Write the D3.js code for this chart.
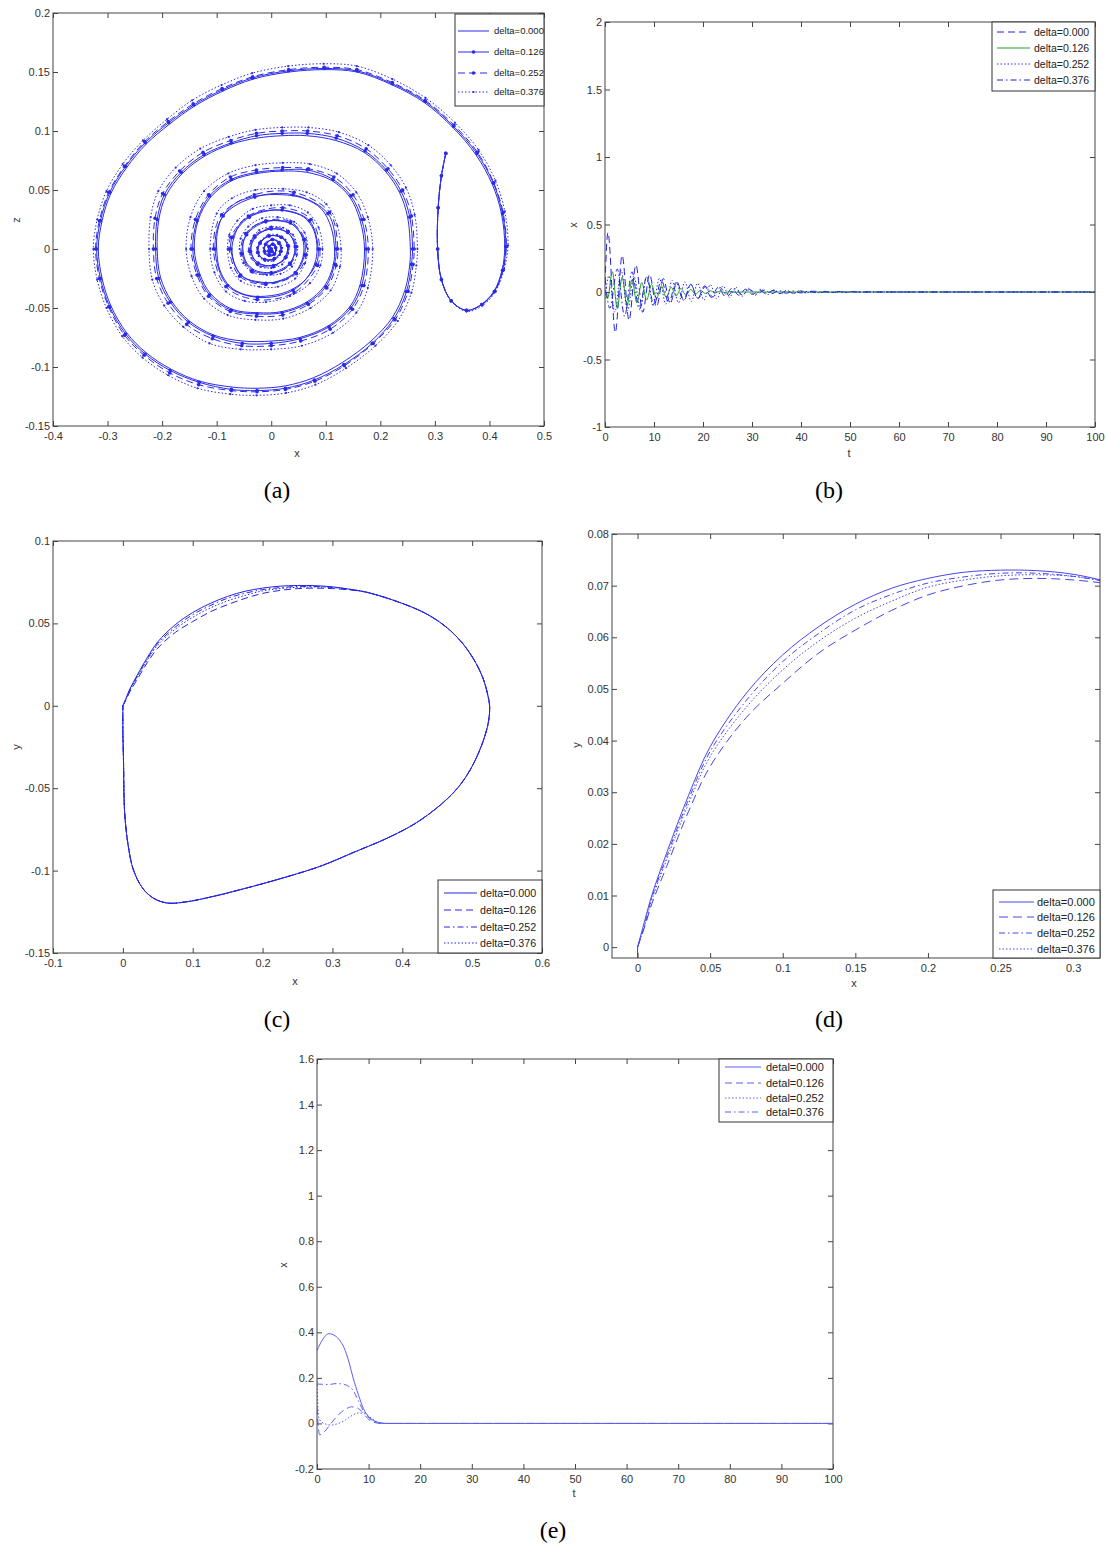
<!DOCTYPE html>
<html><head><meta charset="utf-8">
<script src="https://cdn.jsdelivr.net/npm/d3@7"></script>
<style>body{margin:0;background:#fff} svg{display:block}</style>
</head><body>
<svg id="fig" width="1106" height="1544"></svg>
<script>
// ---------------- DATA ----------------
const deltaLabels = ["delta=0.000","delta=0.126","delta=0.252","delta=0.376"];
const detalLabels = ["detal=0.000","detal=0.126","detal=0.252","detal=0.376"];

// panel (a) ticks
const aXTicks = [-0.4,-0.3,-0.2,-0.1,0,0.1,0.2,0.3,0.4,0.5];
const aXLabels = ["-0.4","-0.3","-0.2","-0.1","0","0.1","0.2","0.3","0.4","0.5"];
const aYTicks = [-0.15,-0.1,-0.05,0,0.05,0.1,0.15,0.2];
const aYLabels = ["-0.15","-0.1","-0.05","0","0.05","0.1","0.15","0.2"];
// panel (b) ticks
const bXTicks = [0,10,20,30,40,50,60,70,80,90,100];
const bXLabels = ["0","10","20","30","40","50","60","70","80","90","100"];
const bYTicks = [-1,-0.5,0,0.5,1,1.5,2];
const bYLabels = ["-1","-0.5","0","0.5","1","1.5","2"];
// panel (c) ticks
const cXTicks = [-0.1,0,0.1,0.2,0.3,0.4,0.5,0.6];
const cXLabels = ["-0.1","0","0.1","0.2","0.3","0.4","0.5","0.6"];
const cYTicks = [-0.15,-0.1,-0.05,0,0.05,0.1];
const cYLabels = ["-0.15","-0.1","-0.05","0","0.05","0.1"];
// panel (d) ticks
const dXTicks = [0,0.05,0.1,0.15,0.2,0.25,0.3];
const dXLabels = ["0","0.05","0.1","0.15","0.2","0.25","0.3"];
const dYTicks = [0,0.01,0.02,0.03,0.04,0.05,0.06,0.07,0.08];
const dYLabels = ["0","0.01","0.02","0.03","0.04","0.05","0.06","0.07","0.08"];
// panel (e) ticks
const eXTicks = [0,10,20,30,40,50,60,70,80,90,100];
const eXLabels = ["0","10","20","30","40","50","60","70","80","90","100"];
const eYTicks = [-0.2,0,0.2,0.4,0.6,0.8,1,1.2,1.4,1.6];
const eYLabels = ["-0.2","0","0.2","0.4","0.6","0.8","1","1.2","1.4","1.6"];

// panel (a): x-z trajectories [x, z]
const aSeries0 = [[0.320,0.081],[0.312,0.062],[0.306,0.035],[0.305,0.000],[0.312,-0.026],[0.330,-0.044],[0.358,-0.052],[0.385,-0.047],[0.408,-0.036],[0.423,-0.018],[0.428,0.002],[0.422,0.030],[0.405,0.055],[0.375,0.080],[0.333,0.103],[0.281,0.124],[0.222,0.139],[0.157,0.150],[0.098,0.152],[0.033,0.150],[-0.033,0.144],[-0.088,0.134],[-0.141,0.121],[-0.186,0.106],[-0.229,0.089],[-0.265,0.069],[-0.294,0.047],[-0.310,0.024],[-0.317,0.000],[-0.310,-0.025],[-0.294,-0.048],[-0.265,-0.071],[-0.229,-0.088],[-0.183,-0.102],[-0.131,-0.112],[-0.072,-0.117],[-0.026,-0.118],[0.026,-0.116],[0.078,-0.109],[0.131,-0.096],[0.183,-0.078],[0.222,-0.058],[0.245,-0.035],[0.254,-0.013],[0.255,0.000],[0.250,0.027],[0.235,0.048],[0.209,0.066],[0.170,0.082],[0.118,0.092],[0.065,0.096],[0.020,0.096],[-0.026,0.094],[-0.072,0.089],[-0.121,0.079],[-0.163,0.064],[-0.193,0.045],[-0.206,0.025],[-0.209,0.000],[-0.203,-0.024],[-0.183,-0.044],[-0.150,-0.061],[-0.105,-0.073],[-0.052,-0.078],[0.000,-0.078],[0.052,-0.075],[0.105,-0.065],[0.144,-0.049],[0.163,-0.030],[0.171,0.000],[0.163,0.024],[0.144,0.044],[0.111,0.058],[0.065,0.065],[0.020,0.066],[-0.026,0.064],[-0.072,0.058],[-0.111,0.044],[-0.134,0.024],[-0.141,0.000],[-0.131,-0.021],[-0.111,-0.038],[-0.072,-0.051],[-0.026,-0.054],[0.020,-0.053],[0.065,-0.045],[0.098,-0.031],[0.114,-0.013],[0.116,0.000],[0.110,0.018],[0.092,0.034],[0.059,0.043],[0.020,0.046],[-0.026,0.045],[-0.065,0.039],[-0.090,0.027],[-0.099,0.013],[-0.100,0.000],[-0.094,-0.018],[-0.075,-0.032],[-0.045,-0.039],[-0.010,-0.040],[0.030,-0.036],[0.063,-0.026],[0.080,-0.012],[0.084,0.000],[0.078,0.016],[0.060,0.027],[0.030,0.032],[0.000,0.033],[-0.030,0.030],[-0.056,0.022],[-0.068,0.010],[-0.072,0.000],[-0.066,-0.014],[-0.050,-0.024],[-0.020,-0.028],[0.010,-0.028],[0.040,-0.022],[0.056,-0.010],[0.060,0.000],[0.055,0.012],[0.038,0.021],[0.010,0.024],[-0.015,0.023],[-0.038,0.017],[-0.050,0.008],[-0.052,0.000],[-0.046,-0.011],[-0.030,-0.018],[-0.008,-0.020],[0.015,-0.019],[0.034,-0.013],[0.042,-0.005],[0.043,0.002],[0.036,0.011],[0.020,0.016],[0.000,0.017],[-0.020,0.014],[-0.033,0.007],[-0.037,0.000],[-0.032,-0.008],[-0.018,-0.013],[0.000,-0.014],[0.018,-0.011],[0.028,-0.004],[0.030,0.002],[0.024,0.008],[0.010,0.011],[-0.005,0.011],[-0.018,0.007],[-0.024,0.001],[-0.021,-0.006],[-0.010,-0.009],[0.004,-0.009],[0.015,-0.005],[0.019,0.001],[0.014,0.006],[0.004,0.008],[-0.007,0.006],[-0.013,0.001],[-0.011,-0.004],[-0.004,-0.006],[0.005,-0.005],[0.009,-0.001],[0.007,0.003],[0.001,0.004],[-0.004,0.002],[-0.005,-0.001],[-0.002,-0.003],[0.002,-0.002],[0.002,0.000],[0,0]];
const aSeries1 = [[0.320,0.081],[0.312,0.062],[0.306,0.035],[0.305,0.000],[0.312,-0.026],[0.330,-0.044],[0.358,-0.052],[0.386,-0.047],[0.409,-0.036],[0.424,-0.018],[0.430,0.002],[0.424,0.030],[0.407,0.056],[0.377,0.081],[0.334,0.104],[0.282,0.125],[0.222,0.140],[0.157,0.151],[0.097,0.153],[0.032,0.151],[-0.034,0.145],[-0.089,0.135],[-0.142,0.122],[-0.188,0.107],[-0.231,0.090],[-0.267,0.070],[-0.296,0.048],[-0.313,0.024],[-0.320,0.000],[-0.313,-0.025],[-0.296,-0.049],[-0.267,-0.072],[-0.231,-0.089],[-0.185,-0.103],[-0.132,-0.113],[-0.073,-0.119],[-0.026,-0.120],[0.026,-0.118],[0.079,-0.111],[0.133,-0.098],[0.185,-0.080],[0.225,-0.059],[0.248,-0.036],[0.257,-0.013],[0.259,0.000],[0.254,0.027],[0.238,0.049],[0.211,0.067],[0.172,0.083],[0.119,0.094],[0.066,0.098],[0.020,0.098],[-0.027,0.096],[-0.073,0.090],[-0.123,0.080],[-0.165,0.065],[-0.196,0.046],[-0.209,0.025],[-0.212,0.000],[-0.206,-0.025],[-0.185,-0.045],[-0.152,-0.062],[-0.106,-0.074],[-0.053,-0.080],[0.000,-0.080],[0.053,-0.076],[0.106,-0.066],[0.146,-0.050],[0.166,-0.031],[0.174,0.000],[0.166,0.025],[0.146,0.045],[0.113,0.059],[0.066,0.067],[0.020,0.067],[-0.027,0.065],[-0.073,0.059],[-0.113,0.045],[-0.136,0.024],[-0.144,0.000],[-0.133,-0.022],[-0.113,-0.039],[-0.073,-0.052],[-0.026,-0.055],[0.020,-0.054],[0.066,-0.046],[0.100,-0.032],[0.116,-0.013],[0.119,0.000],[0.104,0.030],[0.040,0.046],[-0.030,0.044],[-0.088,0.028],[-0.103,0.000],[-0.080,-0.031],[-0.025,-0.041],[0.040,-0.035],[0.082,-0.013],[0.086,0.000],[0.070,0.024],[0.020,0.033],[-0.040,0.027],[-0.071,0.010],[-0.074,0.000],[-0.056,-0.022],[-0.010,-0.029],[0.044,-0.020],[0.061,-0.005],[0.060,0.008],[0.035,0.022],[-0.010,0.023],[-0.045,0.012],[-0.053,-0.004],[-0.035,-0.018],[0.000,-0.020],[0.034,-0.012],[0.044,0.002],[0.030,0.014],[0.000,0.017],[-0.030,0.010],[-0.038,-0.002],[-0.024,-0.012],[0.004,-0.014],[0.026,-0.007],[0.030,0.003],[0.018,0.010],[-0.004,0.011],[-0.020,0.005],[-0.024,-0.003],[-0.012,-0.009],[0.006,-0.008],[0.017,-0.002],[0.014,0.005],[0.002,0.008],[-0.010,0.004],[-0.012,-0.002],[-0.004,-0.005],[0.006,-0.004],[0.008,0.001],[0.003,0.004],[-0.004,0.002],[-0.004,-0.002],[0.001,-0.002],[0,0]];
const aSeries2 = [[0.320,0.081],[0.312,0.062],[0.306,0.035],[0.305,0.000],[0.312,-0.026],[0.330,-0.044],[0.358,-0.052],[0.386,-0.047],[0.410,-0.036],[0.425,-0.018],[0.431,0.002],[0.425,0.031],[0.408,0.056],[0.378,0.082],[0.335,0.105],[0.282,0.126],[0.222,0.141],[0.157,0.152],[0.097,0.154],[0.032,0.152],[-0.034,0.146],[-0.090,0.136],[-0.143,0.123],[-0.189,0.108],[-0.232,0.091],[-0.269,0.070],[-0.298,0.048],[-0.315,0.024],[-0.322,0.000],[-0.315,-0.025],[-0.298,-0.049],[-0.269,-0.073],[-0.233,-0.090],[-0.186,-0.105],[-0.133,-0.115],[-0.073,-0.120],[-0.026,-0.121],[0.026,-0.119],[0.080,-0.112],[0.134,-0.099],[0.187,-0.080],[0.227,-0.060],[0.251,-0.036],[0.260,-0.013],[0.262,0.000],[0.257,0.028],[0.241,0.050],[0.214,0.068],[0.174,0.085],[0.121,0.096],[0.067,0.100],[0.020,0.100],[-0.027,0.098],[-0.074,0.092],[-0.125,0.082],[-0.168,0.066],[-0.199,0.047],[-0.213,0.026],[-0.216,0.000],[-0.210,-0.025],[-0.189,-0.046],[-0.155,-0.064],[-0.108,-0.076],[-0.054,-0.082],[0.000,-0.082],[0.054,-0.078],[0.108,-0.068],[0.149,-0.051],[0.170,-0.031],[0.178,0.000],[0.170,0.025],[0.150,0.046],[0.115,0.061],[0.068,0.068],[0.021,0.069],[-0.027,0.067],[-0.075,0.061],[-0.115,0.046],[-0.139,0.025],[-0.147,0.000],[-0.136,-0.022],[-0.115,-0.040],[-0.075,-0.053],[-0.027,-0.057],[0.021,-0.056],[0.068,-0.047],[0.102,-0.033],[0.119,-0.014],[0.122,0.000],[0.107,0.031],[0.042,0.048],[-0.031,0.046],[-0.091,0.029],[-0.106,0.000],[-0.083,-0.032],[-0.026,-0.043],[0.042,-0.037],[0.085,-0.014],[0.089,0.000],[0.073,0.025],[0.021,0.035],[-0.042,0.028],[-0.074,0.010],[-0.077,0.000],[-0.058,-0.023],[-0.010,-0.030],[0.046,-0.021],[0.064,-0.005],[0.062,0.008],[0.036,0.023],[-0.010,0.024],[-0.047,0.013],[-0.055,-0.004],[-0.036,-0.019],[0.000,-0.021],[0.035,-0.013],[0.046,0.002],[0.031,0.015],[0.000,0.018],[-0.031,0.011],[-0.040,-0.002],[-0.025,-0.013],[0.004,-0.015],[0.027,-0.007],[0.031,0.003],[0.019,0.010],[-0.004,0.011],[-0.021,0.005],[-0.025,-0.003],[-0.012,-0.009],[0.006,-0.008],[0.018,-0.002],[0.014,0.005],[0.002,0.008],[-0.010,0.004],[-0.012,-0.002],[-0.004,-0.005],[0.006,-0.004],[0.008,0.001],[0.003,0.004],[-0.004,0.002],[-0.004,-0.002],[0.001,-0.002],[0,0]];
const aSeries3 = [[0.320,0.081],[0.312,0.062],[0.306,0.035],[0.305,0.000],[0.312,-0.026],[0.330,-0.044],[0.358,-0.053],[0.387,-0.048],[0.411,-0.036],[0.427,-0.017],[0.434,0.003],[0.428,0.032],[0.411,0.058],[0.380,0.084],[0.337,0.107],[0.283,0.128],[0.222,0.144],[0.157,0.155],[0.096,0.157],[0.031,0.155],[-0.035,0.149],[-0.091,0.139],[-0.145,0.126],[-0.191,0.110],[-0.235,0.092],[-0.272,0.072],[-0.302,0.049],[-0.319,0.025],[-0.326,0.000],[-0.319,-0.026],[-0.302,-0.050],[-0.273,-0.074],[-0.236,-0.092],[-0.189,-0.107],[-0.135,-0.118],[-0.075,-0.123],[-0.027,-0.124],[0.027,-0.122],[0.081,-0.115],[0.137,-0.101],[0.191,-0.082],[0.232,-0.061],[0.257,-0.037],[0.266,-0.014],[0.268,0.000],[0.263,0.029],[0.247,0.052],[0.219,0.071],[0.178,0.088],[0.124,0.099],[0.068,0.103],[0.020,0.103],[-0.029,0.101],[-0.078,0.095],[-0.130,0.085],[-0.175,0.069],[-0.207,0.049],[-0.221,0.027],[-0.224,0.000],[-0.218,-0.026],[-0.196,-0.048],[-0.161,-0.066],[-0.113,-0.080],[-0.056,-0.085],[0.000,-0.085],[0.056,-0.082],[0.113,-0.071],[0.156,-0.054],[0.177,-0.033],[0.186,0.000],[0.177,0.027],[0.156,0.048],[0.120,0.064],[0.071,0.072],[0.021,0.073],[-0.029,0.071],[-0.079,0.064],[-0.123,0.049],[-0.148,0.027],[-0.156,0.000],[-0.146,-0.023],[-0.123,-0.042],[-0.080,-0.056],[-0.029,-0.060],[0.022,-0.059],[0.072,-0.050],[0.109,-0.035],[0.126,-0.015],[0.128,0.000],[0.121,0.020],[0.101,0.038],[0.065,0.048],[0.022,0.051],[-0.029,0.050],[-0.072,0.043],[-0.100,0.030],[-0.112,0.000],[-0.104,-0.020],[-0.083,-0.036],[-0.049,-0.044],[-0.010,-0.045],[0.034,-0.040],[0.071,-0.029],[0.090,-0.014],[0.094,0.000],[0.087,0.018],[0.067,0.031],[0.034,0.037],[0.000,0.037],[-0.034,0.034],[-0.062,0.024],[-0.077,0.012],[-0.080,0.000],[-0.074,-0.016],[-0.056,-0.027],[-0.022,-0.032],[0.012,-0.032],[0.044,-0.025],[0.062,-0.012],[0.067,0.000],[0.061,0.014],[0.042,0.023],[0.012,0.027],[-0.017,0.026],[-0.042,0.019],[-0.056,0.009],[-0.058,0.000],[-0.051,-0.012],[-0.034,-0.020],[-0.008,-0.022],[0.017,-0.021],[0.038,-0.015],[0.047,-0.005],[0.048,0.002],[0.040,0.012],[0.022,0.018],[0.000,0.019],[-0.022,0.016],[-0.037,0.007],[-0.041,0.000],[-0.036,-0.008],[-0.020,-0.015],[0.000,-0.016],[0.020,-0.013],[0.031,-0.004],[0.033,0.002],[0.026,0.008],[0.011,0.012],[-0.005,0.012],[-0.019,0.007],[-0.026,0.001],[-0.023,-0.006],[-0.011,-0.010],[0.004,-0.010],[0.016,-0.005],[0.020,0.001],[0.015,0.006],[0.004,0.008],[-0.007,0.006],[-0.014,0.001],[-0.012,-0.004],[-0.004,-0.006],[0.005,-0.005],[0.009,-0.001],[0.007,0.003],[0.001,0.004],[-0.004,0.002],[-0.005,-0.001],[-0.002,-0.003],[0.002,-0.002],[0,0]];

// panel (b): x(t) extrema [t, x]
const bSeries0 = [[0,0.06],[0.6,0.44],[2.1,-0.30],[3.5,0.27],[4.9,-0.21],[6.3,0.20],[7.7,-0.15],[9.1,0.13],[10.5,-0.11],[11.9,0.10],[13.3,-0.085],[14.7,0.075],[16.1,-0.065],[17.5,0.058],[18.9,-0.05],[20.3,0.045],[21.7,-0.04],[23.1,0.035],[24.5,-0.031],[25.9,0.027],[27.3,-0.024],[28.7,0.021],[30.1,-0.018],[31.5,0.016],[32.9,-0.014],[34.3,0.012],[35.7,-0.011],[37.1,0.01],[38.5,-0.009],[39.9,0.008],[41.3,-0.007],[42.7,0.006],[44.1,-0.005],[45.5,0.004],[46.9,-0.004],[48.3,0.003],[49.7,-0.003],[51.1,0.002],[52.5,-0.002],[54,0.001],[56,0],[100,0]];
const bSeries1 = [[0,0.02],[0.5,-0.05],[1.5,0.15],[2.5,-0.12],[3.5,0.11],[4.5,-0.10],[5.5,0.09],[6.5,-0.08],[7.5,0.07],[8.5,-0.06],[9.5,0.055],[10.5,-0.05],[11.5,0.045],[12.5,-0.04],[13.5,0.035],[14.5,-0.03],[15.5,0.026],[16.5,-0.022],[17.5,0.019],[18.5,-0.016],[19.5,0.013],[20.5,-0.011],[21.5,0.009],[22.5,-0.007],[23.5,0.006],[24.5,-0.005],[25.5,0.004],[26.5,-0.003],[28,0],[100,0]];
const bSeries2 = [[0,-0.05],[0.8,0.12],[2.0,-0.15],[3.3,0.16],[4.6,-0.14],[5.9,0.12],[7.2,-0.12],[8.5,0.11],[9.8,-0.10],[11.1,0.10],[12.4,-0.09],[13.7,0.085],[15,-0.08],[16.3,0.075],[17.6,-0.07],[18.9,0.065],[20.2,-0.06],[21.5,0.055],[22.8,-0.05],[24.1,0.045],[25.4,-0.04],[26.7,0.036],[28,-0.032],[29.3,0.028],[30.6,-0.025],[31.9,0.022],[33.2,-0.019],[34.5,0.016],[35.8,-0.014],[37.1,0.012],[38.4,-0.01],[39.7,0.009],[41,-0.008],[42.3,0.007],[43.6,-0.006],[44.9,0.005],[46.2,-0.004],[47.5,0.003],[48.8,-0.003],[50.1,0.002],[52,-0.001],[55,0],[100,0]];
const bSeries3 = [[0,0.1],[1.0,-0.12],[2.5,0.17],[4.0,-0.18],[5.5,0.15],[7.0,-0.13],[8.5,0.115],[10,-0.10],[11.5,0.09],[13,-0.08],[14.5,0.07],[16,-0.062],[17.5,0.055],[19,-0.048],[20.5,0.042],[22,-0.037],[23.5,0.032],[25,-0.028],[26.5,0.024],[28,-0.021],[29.5,0.018],[31,-0.016],[32.5,0.014],[34,-0.012],[35.5,0.01],[37,-0.009],[38.5,0.008],[40,-0.007],[41.5,0.006],[43,-0.005],[44.5,0.004],[46,-0.0035],[47.5,0.003],[49,-0.0025],[50.5,0.002],[52,-0.0015],[53.5,0.001],[56,0],[100,0]];

// panels (c),(d): x-y trajectories [x, y]; upper arcs differ, rest of loop shared
const cdArc0 = [[0,0],[0.005,0.0052],[0.01,0.0102],[0.02,0.0182],[0.035,0.0293],[0.05,0.0388],[0.075,0.0492],[0.1,0.0566],[0.125,0.0621],[0.15,0.0664],[0.175,0.0695],[0.2,0.0714],[0.225,0.0726],[0.25,0.0730],[0.275,0.0729],[0.3,0.0722],[0.325,0.0707]];
const cdArc1 = [[0,0],[0.005,0.0040],[0.01,0.0085],[0.02,0.0156],[0.035,0.0262],[0.05,0.0350],[0.075,0.0445],[0.1,0.0511],[0.125,0.0570],[0.15,0.0614],[0.175,0.0652],[0.2,0.0682],[0.225,0.0700],[0.25,0.0711],[0.275,0.0714],[0.3,0.0711],[0.325,0.0703]];
const cdArc2 = [[0,0],[0.005,0.0045],[0.01,0.0097],[0.02,0.0175],[0.035,0.0285],[0.05,0.0379],[0.075,0.0478],[0.1,0.0553],[0.125,0.0608],[0.15,0.0653],[0.175,0.0683],[0.2,0.0705],[0.225,0.0717],[0.25,0.0724],[0.275,0.0724],[0.3,0.0718],[0.325,0.0706]];
const cdArc3 = [[0,0],[0.005,0.0043],[0.01,0.0093],[0.02,0.0169],[0.035,0.0277],[0.05,0.0369],[0.075,0.0465],[0.1,0.0537],[0.125,0.0593],[0.15,0.0637],[0.175,0.0670],[0.2,0.0697],[0.225,0.0711],[0.25,0.0719],[0.275,0.0721],[0.3,0.0718],[0.325,0.0707]];
const cdLoopRest = [[0.350,0.0688],[0.393,0.0632],[0.428,0.0572],[0.450,0.0518],[0.470,0.0452],[0.489,0.0365],[0.505,0.0262],[0.516,0.0162],[0.522,0.0072],[0.525,0],[0.523,-0.0105],[0.513,-0.0246],[0.497,-0.039],[0.479,-0.050],[0.455,-0.060],[0.420,-0.071],[0.380,-0.080],[0.330,-0.089],[0.285,-0.097],[0.233,-0.104],[0.182,-0.110],[0.131,-0.1155],[0.090,-0.119],[0.064,-0.1197],[0.044,-0.1168],[0.028,-0.1105],[0.015,-0.0994],[0.0077,-0.085],[0.0026,-0.065],[0.001,-0.035],[0,-0.0145],[0,0]];

// panel (e): x(t) [t, x]
const eSeries0 = [[0,0.32],[1,0.365],[2.3,0.394],[3.5,0.385],[4.5,0.362],[5.2,0.335],[6.25,0.265],[7,0.2],[8,0.128],[9,0.065],[10,0.03],[11,0.012],[12,0.004],[13.5,0],[100,0]];
const eSeries1 = [[0,0.07],[0.5,-0.05],[1.5,-0.035],[2.7,0],[3.8,0.03],[4.8,0.051],[5.8,0.066],[6.7,0.073],[7.7,0.069],[8.8,0.05],[9.8,0.022],[11,0.005],[12.5,0],[100,0]];
const eSeries2 = [[0,0.2],[0.3,0.03],[0.9,0.006],[2.7,-0.007],[4.5,0.003],[5.5,0.015],[6.5,0.031],[8,0.046],[9.2,0.043],[10.6,0.022],[12,0.003],[13,0],[100,0]];
const eSeries3 = [[0,0.173],[1,0.172],[2.3,0.171],[3.7,0.175],[5,0.173],[5.9,0.166],[7,0.145],[8,0.1],[9.1,0.051],[10.2,0.022],[11.6,0.004],[13,0],[100,0]];

// ---------------- DRAWING ----------------
const svg = d3.select("#fig");
svg.append("rect").attr("width",1106).attr("height",1544).attr("fill","#fff");
const FONT = "'Liberation Sans', Arial, sans-serif";
const DASH = "7,4", DOT = "1.5,2", DASHDOT = "6,3,1.5,3";

function panel(o) {
  const g = svg.append("g");
  const x = d3.scaleLinear().domain(o.xDomain).range([o.left, o.right]);
  const y = d3.scaleLinear().domain(o.yDomain).range([o.bottom, o.top]);
  const cid = "clip_" + o.name;
  svg.append("clipPath").attr("id", cid).append("rect")
    .attr("x", o.left).attr("y", o.top).attr("width", o.right - o.left).attr("height", o.bottom - o.top);

  const fmtX = (d, i) => o.xLabels[i], fmtY = (d, i) => o.yLabels[i];
  const axes = [
    [d3.axisBottom(x).tickValues(o.xTicks).tickFormat(fmtX).tickPadding(6), `translate(0,${o.bottom})`],
    [d3.axisTop(x).tickValues(o.xTicks).tickFormat(""), `translate(0,${o.top})`],
    [d3.axisLeft(y).tickValues(o.yTicks).tickFormat(fmtY).tickPadding(3), `translate(${o.left},0)`],
    [d3.axisRight(y).tickValues(o.yTicks).tickFormat(""), `translate(${o.right},0)`]
  ];
  axes.forEach(([ax, tr]) => {
    const a = g.append("g").attr("transform", tr).call(ax.tickSizeInner(-5).tickSizeOuter(0));
    a.select(".domain").remove();
    a.selectAll(".tick line").attr("stroke", "#444").attr("stroke-width", 1);
    a.selectAll(".tick text").attr("fill", "#333").style("font-family", FONT).style("font-size", "11px");
  });

  const line = d3.line().x(d => x(d[0])).y(d => y(d[1])).curve(o.curve);
  const plot = g.append("g").attr("clip-path", `url(#${cid})`);
  o.series.forEach(s => {
    plot.append("path").datum(s.data).attr("d", line)
      .attr("fill", "none").attr("stroke", s.color).attr("stroke-width", s.width || 1)
      .attr("stroke-dasharray", s.dash || null).attr("stroke-linejoin", "round");
    if (s.marker) {
      plot.selectAll(null).data(s.data).join("circle")
        .attr("cx", d => x(d[0])).attr("cy", d => y(d[1])).attr("r", s.marker).attr("fill", s.color);
    }
  });

  g.append("rect").attr("x", o.left).attr("y", o.top).attr("width", o.right - o.left).attr("height", o.bottom - o.top)
    .attr("fill", "none").attr("stroke", "#444").attr("stroke-width", 1);

  // legend
  const L = o.legend;
  g.append("rect").attr("x", L.x0).attr("y", L.y0).attr("width", L.x1 - L.x0).attr("height", L.y1 - L.y0)
    .attr("fill", "#fff").attr("stroke", "#333").attr("stroke-width", 1);
  o.series.forEach((s, i) => {
    const yy = L.ys[i];
    g.append("line").attr("x1", L.lx0).attr("x2", L.lx1).attr("y1", yy).attr("y2", yy)
      .attr("stroke", s.color).attr("stroke-width", 1).attr("stroke-dasharray", s.dash || null);
    if (s.marker) g.append("circle").attr("cx", (L.lx0 + L.lx1) / 2).attr("cy", yy).attr("r", s.marker).attr("fill", s.color);
    g.append("text").attr("x", L.tx).attr("y", yy).attr("dy", "0.35em").text(L.labels[i])
      .attr("fill", "#222").style("font-family", FONT).style("font-size", L.fs + "px");
  });

  // axis labels
  g.append("text").attr("x", o.xLab[0]).attr("y", o.xLab[1]).attr("text-anchor", "middle").attr("dy", "0.35em")
    .text(o.xLabel).attr("fill", "#333").style("font-family", FONT).style("font-size", "11px");
  g.append("text").attr("transform", `translate(${o.yLab[0]},${o.yLab[1]}) rotate(-90)`).attr("text-anchor", "middle").attr("dy", "0.35em")
    .text(o.yLabel).attr("fill", "#333").style("font-family", FONT).style("font-size", "11px");
  // caption
  svg.append("text").attr("x", o.cap[0]).attr("y", o.cap[1]).attr("text-anchor", "middle").text(o.caption)
    .attr("fill", "#000").style("font-family", "'Liberation Serif', 'DejaVu Serif', serif").style("font-size", "24px");
}

const blueA = "#2b2bea", blueC = "#2424e6", blueD = "#4646ee", blueE = "#5e5eef";
const catmull = d3.curveCatmullRom.alpha(0.5);

panel({ name: "a", left: 53, right: 544, top: 13, bottom: 426,
  xDomain: [-0.4, 0.5], yDomain: [-0.15, 0.2], xTicks: aXTicks, xLabels: aXLabels, yTicks: aYTicks, yLabels: aYLabels,
  curve: catmull,
  series: [
    { data: aSeries0, color: blueA },
    { data: aSeries1, color: blueA, marker: 1.8 },
    { data: aSeries2, color: blueA, dash: DASH, marker: 1.8 },
    { data: aSeries3, color: blueA, dash: DOT, marker: 1.1 }
  ],
  legend: { x0: 455, y0: 14, x1: 544, y1: 106, ys: [31, 52, 73, 92], lx0: 458, lx1: 489, tx: 494, fs: 9.5, labels: deltaLabels },
  xLabel: "x", xLab: [297, 453], yLabel: "z", yLab: [16, 220], caption: "(a)", cap: [277, 498] });

panel({ name: "b", left: 605, right: 1095, top: 22, bottom: 427,
  xDomain: [0, 100], yDomain: [-1, 2], xTicks: bXTicks, xLabels: bXLabels, yTicks: bYTicks, yLabels: bYLabels,
  curve: d3.curveMonotoneX,
  series: [
    { data: bSeries0, color: "#2020e0", dash: DASH },
    { data: bSeries1, color: "#20a020" },
    { data: bSeries2, color: "#3030ee", dash: DOT },
    { data: bSeries3, color: "#2020e0", dash: DASHDOT }
  ],
  legend: { x0: 992, y0: 22, x1: 1095, y1: 91, ys: [32, 48, 64, 80], lx0: 997, lx1: 1030, tx: 1034, fs: 10.5, labels: deltaLabels },
  xLabel: "t", xLab: [849, 453], yLabel: "x", yLab: [573, 225], caption: "(b)", cap: [829, 498] });

panel({ name: "c", left: 53, right: 542, top: 541, bottom: 953,
  xDomain: [-0.1, 0.6], yDomain: [-0.15, 0.1], xTicks: cXTicks, xLabels: cXLabels, yTicks: cYTicks, yLabels: cYLabels,
  curve: catmull,
  series: [
    { data: cdArc0.concat(cdLoopRest), color: blueC },
    { data: cdArc1.concat(cdLoopRest), color: blueC, dash: DASH },
    { data: cdArc2.concat(cdLoopRest), color: blueC, dash: DASHDOT },
    { data: cdArc3.concat(cdLoopRest), color: blueC, dash: DOT }
  ],
  legend: { x0: 438, y0: 880, x1: 542, y1: 953, ys: [893, 910, 927, 943], lx0: 444, lx1: 477, tx: 480, fs: 10.7, labels: deltaLabels },
  xLabel: "x", xLab: [295, 981], yLabel: "y", yLab: [16, 747], caption: "(c)", cap: [277, 1027] });

panel({ name: "d", left: 612, right: 1100, top: 534, bottom: 958,
  xDomain: [-0.0176, 0.3185], yDomain: [-0.0021, 0.08], xTicks: dXTicks, xLabels: dXLabels, yTicks: dYTicks, yLabels: dYLabels,
  curve: catmull,
  series: [
    { data: cdArc0.concat(cdLoopRest), color: blueD },
    { data: cdArc1.concat(cdLoopRest), color: blueD, dash: "9,5" },
    { data: cdArc2.concat(cdLoopRest), color: blueD, dash: DASHDOT },
    { data: cdArc3.concat(cdLoopRest), color: blueD, dash: DOT }
  ],
  legend: { x0: 993, y0: 890, x1: 1100, y1: 958, ys: [902, 917, 933, 949], lx0: 999, lx1: 1034, tx: 1037, fs: 11, labels: deltaLabels },
  xLabel: "x", xLab: [854, 983], yLabel: "y", yLab: [576, 745], caption: "(d)", cap: [829, 1027] });

panel({ name: "e", left: 317, right: 833, top: 1059, bottom: 1469,
  xDomain: [0, 100], yDomain: [-0.2, 1.6], xTicks: eXTicks, xLabels: eXLabels, yTicks: eYTicks, yLabels: eYLabels,
  curve: d3.curveMonotoneX,
  series: [
    { data: eSeries0, color: blueE },
    { data: eSeries1, color: blueE, dash: DASH },
    { data: eSeries2, color: blueE, dash: DOT },
    { data: eSeries3, color: blueE, dash: DASHDOT }
  ],
  legend: { x0: 719, y0: 1059, x1: 833, y1: 1122, ys: [1067, 1083, 1098, 1112], lx0: 725, lx1: 761, tx: 766, fs: 11, labels: detalLabels },
  xLabel: "t", xLab: [574, 1493], yLabel: "x", yLab: [283, 1265], caption: "(e)", cap: [553, 1538] });
</script>
</body></html>
